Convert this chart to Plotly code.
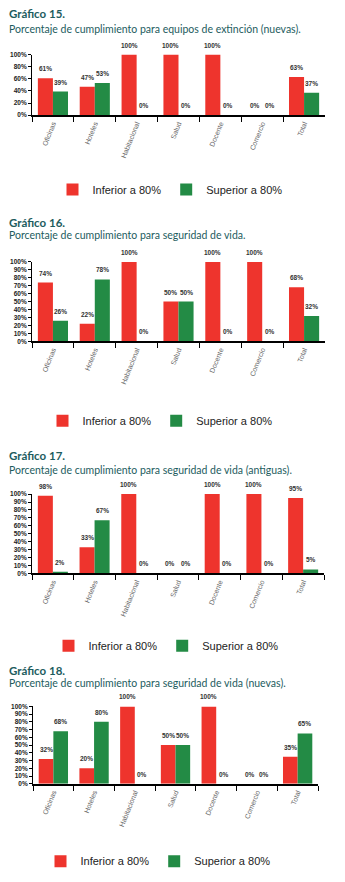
import plotly.graph_objects as go

W, H = 345, 882

categories = ["Oficinas", "Hoteles", "Habitacional", "Salud", "Docente", "Comercio", "Total"]
series_names = ["Inferior a 80%", "Superior a 80%"]

titles = ["Gráfico 15.", "Gráfico 16.", "Gráfico 17.", "Gráfico 18."]
subtitles = [
    "Porcentaje de cumplimiento para equipos de extinción (nuevas).",
    "Porcentaje de cumplimiento para seguridad de vida.",
    "Porcentaje de cumplimiento para seguridad de vida (antiguas).",
    "Porcentaje de cumplimiento para seguridad de vida (nuevas).",
]

inferior_15 = [61, 47, 100, 100, 100, 0, 63]
superior_15 = [39, 53, 0, 0, 0, 0, 37]
inferior_16 = [74, 22, 100, 50, 100, 100, 68]
superior_16 = [26, 78, 0, 50, 0, 0, 32]
inferior_17 = [98, 33, 100, 0, 100, 100, 95]
superior_17 = [2, 67, 0, 0, 0, 0, 5]
inferior_18 = [32, 20, 100, 50, 100, 0, 35]
superior_18 = [68, 80, 0, 50, 0, 0, 65]

y_dticks = [20, 10, 10, 10]

inferior_all = [inferior_15, inferior_16, inferior_17, inferior_18]
superior_all = [superior_15, superior_16, superior_17, superior_18]

# layout (pixels)
plot_boxes = [  # x0, x1, ytop, ybottom
    (32, 325, 51, 112),
    (32, 325, 260, 340),
    (32, 324, 494, 574),
    (33, 318, 708, 786),
]
title_y = [10, 220, 455, 672]
subtitle_y = [25, 233, 470, 684]
legend_pos = [(170, 187), (160, 420), (166, 647), (158, 864)]

RED = "#ee342d"
GREEN = "#238b45"
TEAL = "#1d5c5e"

fig = go.Figure()
annotations = []
layout = {}

for i in range(4):
    n = i + 1
    sx = "" if n == 1 else str(n)
    leg = "legend" if n == 1 else f"legend{n}"
    for vals, name, col in [(inferior_all[i], series_names[0], RED),
                            (superior_all[i], series_names[1], GREEN)]:
        fig.add_trace(go.Bar(
            x=categories, y=vals, name=name, marker_color=col,
            marker_line_width=0, xaxis="x" + sx, yaxis="y" + sx,
            legend=leg, hoverinfo="skip",
        ))
    x0, x1, yt, yb = plot_boxes[i]
    layout["xaxis" + sx] = dict(
        domain=[x0 / W, x1 / W], anchor="y" + sx, type="category",
        range=[-0.5, 6.5], tickson="boundaries", ticks="outside", ticklen=5,
        tickcolor="black", showline=True, linecolor="black", linewidth=1.5,
        tickangle=-68, tickfont=dict(family="Liberation Sans", size=7, color="#666"),
        showgrid=False, fixedrange=True,
    )
    layout["yaxis" + sx] = dict(
        domain=[1 - yb / H, 1 - yt / H], anchor="x" + sx, range=[0, 100],
        dtick=y_dticks[i], ticksuffix="%", ticks="outside", ticklen=3,
        tickcolor="black", showline=True, linecolor="black", linewidth=1,
        tickfont=dict(family="Liberation Sans", size=6.5, color="#222", weight="bold"),
        showgrid=False, zeroline=False, fixedrange=True,
    )
    lx, ly = legend_pos[i]
    layout[leg] = dict(
        orientation="h", x=lx / W, y=1 - ly / H, xanchor="center", yanchor="middle",
        font=dict(family="Liberation Sans", size=11, color="#222"),
        bgcolor="rgba(0,0,0,0)", itemclick=False, itemdoubleclick=False,
    )
    # value labels
    for j in range(len(categories)):
        for vals, off in [(inferior_all[i], -0.18), (superior_all[i], 0.18)]:
            annotations.append(dict(
                x=j + off, y=vals[j], xref="x" + sx, yref="y" + sx,
                text=f"{vals[j]}%", showarrow=False, yshift=9.5,
                xanchor="center", yanchor="middle",
                font=dict(family="Liberation Sans", size=6.5, color="#333", weight="bold"),
            ))
    annotations.append(dict(
        x=7 / W, y=1 - title_y[i] / H, xref="paper", yref="paper",
        text=f"<b>{titles[i]}</b>", showarrow=False, xanchor="left", yanchor="middle",
        font=dict(family="Lato", size=11.5, color=TEAL),
    ))
    annotations.append(dict(
        x=7 / W, y=1 - subtitle_y[i] / H, xref="paper", yref="paper",
        text=subtitles[i], showarrow=False, xanchor="left", yanchor="middle",
        font=dict(family="Lato", size=10.5, color=TEAL),
    ))

fig.update_layout(
    width=W, height=H, margin=dict(l=0, r=0, t=0, b=0),
    paper_bgcolor="white", plot_bgcolor="white",
    barmode="group", bargap=0.28, bargroupgap=0,
    annotations=annotations, showlegend=True,
    **layout,
)

fig.write_html("out.html", config={"displayModeBar": False})
